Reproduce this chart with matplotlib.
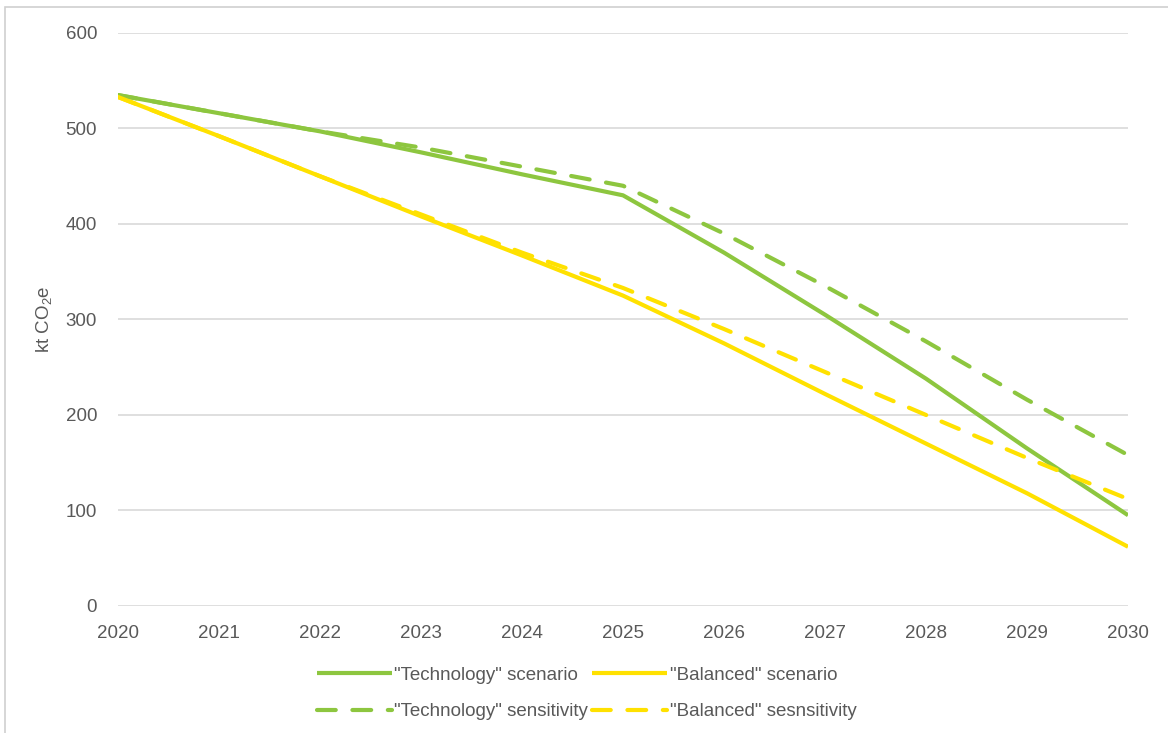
import numpy as np
import matplotlib
matplotlib.use("Agg")
import matplotlib.pyplot as plt
from matplotlib.patches import Rectangle

plt.rcParams['font.family'] = ['Liberation Sans', 'DejaVu Sans']
plt.rcParams['mathtext.fontset'] = 'custom'
plt.rcParams['mathtext.rm'] = 'Liberation Sans'

years = [2020, 2021, 2022, 2023, 2024, 2025, 2026, 2027, 2028, 2029, 2030]
tech_scenario = [535, 516, 497, 475, 452, 430, 370, 305, 238, 165, 95]
balanced_scenario = [533, 492, 450, 408, 367, 325, 275, 222, 170, 118, 62]
tech_sensitivity = [535, 516, 497, 480, 460, 440, 390, 335, 277, 216, 158]
balanced_sensitivity = [533, 492, 450, 410, 370, 333, 290, 245, 200, 155, 112]

labels = ['"Technology" scenario', '"Technology" sensitivity',
          '"Balanced" scenario', '"Balanced" sesnsitivity']

green = '#8DC63F'
yellow = '#FFE100'
text_col = '#595959'

fig = plt.figure(figsize=(11.68, 7.33), dpi=100)
ax = fig.add_axes([0.101, 0.1733, 0.8648, 0.7817])

l1, = ax.plot(years, tech_scenario, color=green, lw=3, solid_capstyle='butt')
l2, = ax.plot(years, balanced_scenario, color=yellow, lw=3, solid_capstyle='butt')
l3, = ax.plot(years, tech_sensitivity, color=green, lw=3, dashes=(4.5, 4), dash_capstyle='round')
l4, = ax.plot(years, balanced_sensitivity, color=yellow, lw=3, dashes=(4.5, 4), dash_capstyle='round')

ax.set_xlim(2020, 2030)
ax.set_ylim(0, 600)
ax.set_xticks(years)
ax.set_yticks(range(0, 601, 100))
ax.grid(axis='y', color='#D9D9D9', lw=1.2)
ax.set_axisbelow(True)
for s in ax.spines.values():
    s.set_visible(False)
ax.tick_params(length=0, labelsize=13.5, labelcolor=text_col)
ax.tick_params(axis='x', pad=14)
ax.tick_params(axis='y', pad=15)
ax.set_ylabel(r'kt CO$_\mathregular{2}$e', fontsize=13.5, color=text_col, labelpad=8)

# legend filled column-wise, so handles are ordered tech, tech-sens, bal, bal-sens
ax.legend([l1, l3, l2, l4], labels, ncol=2, loc='upper left',
          bbox_to_anchor=(0.18, -0.076), frameon=False, fontsize=13.5,
          labelcolor=text_col, handlelength=4.0, handletextpad=0.15,
          columnspacing=0.2, labelspacing=1.05)

fig.patches.append(Rectangle((0.004, -0.05), 1.2, 1.04, transform=fig.transFigure,
                             fill=False, edgecolor='#D0D0D0', lw=1.2))

fig.savefig('out.png', dpi=100)
